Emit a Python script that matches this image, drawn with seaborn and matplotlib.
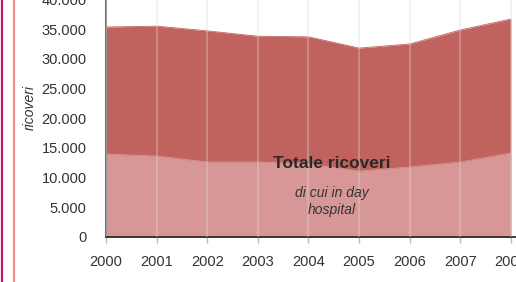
import matplotlib.pyplot as plt
import matplotlib.ticker as mticker
from matplotlib.lines import Line2D
import pandas as pd
import seaborn as sns

years = [2000, 2001, 2002, 2003, 2004, 2005, 2006, 2007, 2008]
totale_ricoveri = [35350, 35500, 34700, 33800, 33700, 31800, 32500, 34850, 36700]
day_hospital = [13970, 13640, 12630, 12630, 12290, 11110, 11780, 12630, 14140]
y_ticks = [0, 5000, 10000, 15000, 20000, 25000, 30000, 35000, 40000]

DARK = "#c0625e"
LIGHT = "#d89797"
TEXT = "#333333"


def thousands(v, _pos):
    return f"{int(v):,}".replace(",", ".")


def main() -> None:
    data = pd.DataFrame({"anno": years, "totale": totale_ricoveri, "dh": day_hospital})

    sns.set_theme(style="white")
    plt.rcParams["font.family"] = ["Liberation Sans", "DejaVu Sans"]

    fig = plt.figure(figsize=(5.16, 2.82), dpi=100)
    ax = fig.add_axes([106 / 516, 1 - 237 / 282, 410 / 516, 237.6 / 282])

    ax.fill_between(data["anno"], 0, data["totale"], color=DARK, lw=0, zorder=1)
    ax.fill_between(data["anno"], 0, data["dh"], color=LIGHT, lw=0, zorder=2)
    sns.lineplot(data=data, x="anno", y="totale", color=DARK, lw=0.6, ax=ax, zorder=1.5)
    sns.lineplot(data=data, x="anno", y="dh", color=LIGHT, lw=0.6, ax=ax, zorder=2.5)

    for yr in years:
        ax.axvline(yr, color="#dcdcdc", lw=1.2, alpha=0.4, zorder=3)

    ax.set_xlim(2000, 2008.1)
    ax.set_ylim(0, 40000)
    ax.set_xticks(years)
    ax.set_yticks(y_ticks)
    ax.yaxis.set_major_formatter(mticker.FuncFormatter(thousands))
    ax.tick_params(axis="x", length=4, width=1, color="#bbbbbb", colors=TEXT,
                   labelsize=10.5, pad=9, bottom=True)
    ax.tick_params(axis="y", length=0, colors=TEXT, labelsize=10.5, pad=14)
    for lbl in ax.get_xticklabels() + ax.get_yticklabels():
        lbl.set_color(TEXT)

    sns.despine(ax=ax, top=True, right=True)
    ax.spines["left"].set_color("#777777")
    ax.spines["left"].set_linewidth(1.5)
    ax.spines["bottom"].set_color("#222222")
    ax.spines["bottom"].set_linewidth(1.2)
    ax.set_xlabel("")
    ax.set_ylabel("ricoveri", fontstyle="italic", fontsize=10, color=TEXT)
    ax.yaxis.set_label_coords(-0.17, 0.545)

    ax.text(2004.46, 12300, "Totale ricoveri", ha="center", va="center",
            fontsize=12.5, fontweight="bold", color="#2a2a2a", zorder=4)
    ax.text(2004.46, 6000, "di cui in day\nhospital", ha="center", va="center",
            fontsize=10, fontstyle="italic", color=TEXT, linespacing=1.3, zorder=4)

    fig.add_artist(Line2D([1.5 / 516, 1.5 / 516], [0, 1], color="#c0157a", lw=1.6))
    fig.add_artist(Line2D([14 / 516, 14 / 516], [0, 1], color="#f39088", lw=1.6))

    fig.savefig("out.png", dpi=100)


if __name__ == "__main__":
    main()
